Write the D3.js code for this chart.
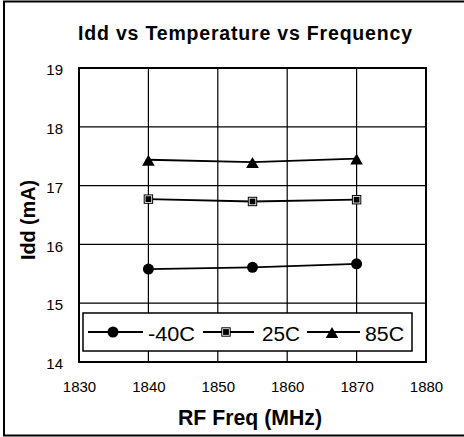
<!DOCTYPE html>
<html><head><meta charset="utf-8">
<script src="https://cdn.jsdelivr.net/npm/d3@7"></script>
<style>body{margin:0;background:#fff}svg{display:block}</style>
</head><body><svg id="c" width="464" height="437"></svg>
<script>
const freqs = [1840, 1855, 1870];
const seriesNames = ["-40C", "25C", "85C"];
const valsM40 = [15.58, 15.61, 15.67];
const vals25 = [16.77, 16.73, 16.76];
const vals85 = [17.44, 17.40, 17.46];
const xTicks = [1830, 1840, 1850, 1860, 1870, 1880];
const yTicks = [14, 15, 16, 17, 18, 19];
const symbols = ["circle", "square", "triangle"];
const seriesVals = [valsM40, vals25, vals85];

const svg = d3.select("#c");
const L = 79, R = 426, T = 68, B = 362;
const x = d3.scaleLinear().domain([1830, 1880]).range([L, R]);
const y = d3.scaleLinear().domain([14, 19]).range([B, T]);
const reg = "'Liberation Sans',Arial,sans-serif";

// outer border
svg.append("rect").attr("x", 4).attr("y", 1.5).attr("width", 470).attr("height", 434)
  .attr("fill", "none").attr("stroke", "#000").attr("stroke-width", 2);

svg.append("text").attr("x", 78).attr("y", 40)
  .attr("font-family", reg).attr("font-weight", "bold").attr("font-size", 19.5)
  .attr("textLength", 334).attr("lengthAdjust", "spacing")
  .text("Idd vs Temperature vs Frequency");

// grid
const g = svg.append("g");
g.selectAll("line.h").data(yTicks.slice(1, -1)).join("line")
  .attr("x1", L).attr("x2", R).attr("y1", d => y(d)).attr("y2", d => y(d))
  .attr("stroke", "#000").attr("stroke-width", 1.2);
g.selectAll("line.v").data(xTicks.slice(1, -1)).join("line")
  .attr("y1", T).attr("y2", B).attr("x1", d => x(d)).attr("x2", d => x(d))
  .attr("stroke", "#000").attr("stroke-width", 1.2);
g.append("rect").attr("x", L).attr("y", T).attr("width", R - L).attr("height", B - T)
  .attr("fill", "none").attr("stroke", "#000").attr("stroke-width", 2);

// axes labels via d3 axes
const xa = svg.append("g").attr("transform", `translate(0,${B})`)
  .call(d3.axisBottom(x).tickValues(xTicks).tickSize(0).tickPadding(19).tickFormat(d3.format("d")));
const ya = svg.append("g").attr("transform", `translate(${L},0)`)
  .call(d3.axisLeft(y).tickValues(yTicks).tickSize(0).tickPadding(16).tickFormat(d3.format("d")));
[xa, ya].forEach(a => {
  a.select(".domain").remove();
  a.selectAll("text").attr("font-family", reg).attr("font-size", 15).attr("fill", "#000");
});
ya.selectAll("text").attr("dy", "0.45em");

svg.append("text").attr("x", 178).attr("y", 425)
  .attr("font-family", reg).attr("font-weight", "bold").attr("font-size", 22)
  .attr("textLength", 144).attr("lengthAdjust", "spacingAndGlyphs")
  .text("RF Freq (MHz)");
svg.append("text").attr("transform", "translate(34.5,260) rotate(-90)")
  .attr("font-family", reg).attr("font-weight", "bold").attr("font-size", 20)
  .attr("textLength", 80).attr("lengthAdjust", "spacingAndGlyphs")
  .text("Idd (mA)");

function marker(sel, type) {
  if (type === "circle") {
    sel.append("circle").attr("r", 5.5).attr("fill", "#000");
  } else if (type === "square") {
    sel.append("rect").attr("x", -4.7).attr("y", -4.7).attr("width", 9.4).attr("height", 9.4).attr("fill", "#000");
    sel.append("rect").attr("x", -3.3).attr("y", -3.3).attr("width", 6.6).attr("height", 6.6)
      .attr("fill", "#000").attr("stroke", "#fff").attr("stroke-width", 0.8);
  } else {
    sel.append("path").attr("d", "M0,-5L6.3,6L-6.3,6Z").attr("fill", "#000");
  }
}

const line = d3.line().x((d, i) => x(freqs[i])).y(d => y(d));
seriesVals.forEach((vals, si) => {
  svg.append("path").attr("d", line(vals)).attr("fill", "none").attr("stroke", "#000").attr("stroke-width", 1.8);
  vals.forEach((v, i) => {
    const m = svg.append("g").attr("transform", `translate(${x(freqs[i])},${y(v)})`);
    marker(m, symbols[si]);
  });
});

// legend
svg.append("rect").attr("x", 83).attr("y", 313).attr("width", 329).attr("height", 38)
  .attr("fill", "#fff").attr("stroke", "#000").attr("stroke-width", 1.5);
const legX = [88, 203, 307];
const legLen = [55, 51, 53];
const legMark = [25, 23, 25];
const legText = [148, 262, 365];
const legW = [47, 38, 39];
seriesNames.forEach((n, i) => {
  const lg = svg.append("g").attr("transform", `translate(0,332)`);
  lg.append("line").attr("x1", legX[i]).attr("x2", legX[i] + legLen[i]).attr("stroke", "#000").attr("stroke-width", 1.8);
  marker(lg.append("g").attr("transform", `translate(${legX[i] + legMark[i]},0)`), symbols[i]);
  lg.append("text").attr("x", legText[i]).attr("y", 9).attr("font-family", reg).attr("font-size", 19.5)
    .attr("textLength", legW[i]).attr("lengthAdjust", "spacingAndGlyphs").text(n);
});
</script></body></html>
